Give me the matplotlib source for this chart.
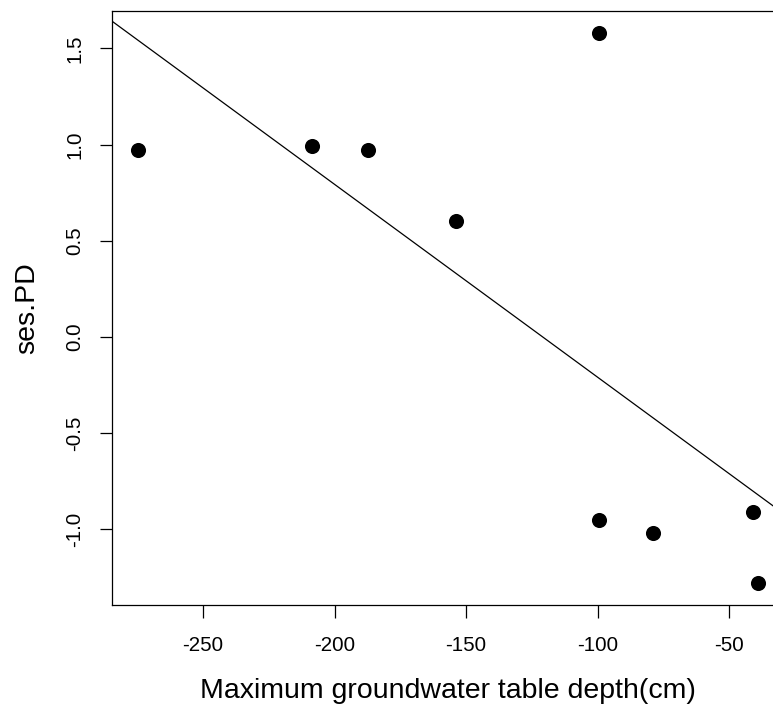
import numpy as np
import matplotlib
matplotlib.use("Agg")
import matplotlib.pyplot as plt

plt.rcParams['font.family'] = ['Liberation Sans', 'DejaVu Sans']

depth = [-274.7, -208.6, -187.3, -153.8, -99.5, -99.5, -79.1, -41.0, -38.9]
ses_pd = [0.971, 0.99, 0.97, 0.60, 1.58, -0.954, -1.02, -0.913, -1.282]
xticks = [-250, -200, -150, -100, -50]
yticks = [-1.0, -0.5, 0.0, 0.5, 1.0, 1.5]

W, H = 773, 711
fig = plt.figure(figsize=(W / 100, H / 100), dpi=100)
left, right, top, bottom = 112.3, 783.0, 11.0, 605.3
ax = fig.add_axes([left / W, (H - bottom) / H, (right - left) / W, (bottom - top) / H])

ax.scatter(depth, ses_pd, s=118, color='black', zorder=3, linewidths=0)
slope, intercept = np.polyfit(depth, ses_pd, 1)
ax.axline((0, intercept), slope=slope, color='black', lw=0.9)

ax.set_xlim(-284.5, -29.5)
ax.set_ylim(-1.3965, 1.6945)
ax.set_xticks(xticks)
ax.set_xticklabels([str(t) for t in xticks])
ax.set_yticks(yticks)
ax.set_yticklabels([f"{t:.1f}" for t in yticks], rotation=90, va='center')
ax.tick_params(direction='out', length=9, width=0.9, labelsize=14.8)
ax.tick_params(axis='x', pad=13)
ax.tick_params(axis='y', pad=11)
for s in ax.spines.values():
    s.set_linewidth(0.9)

ax.set_xlabel('Maximum groundwater table depth(cm)', fontsize=20.5, labelpad=17)
ax.set_ylabel('ses.PD', fontsize=20.5, labelpad=18)

fig.savefig('out.png', dpi=100)
